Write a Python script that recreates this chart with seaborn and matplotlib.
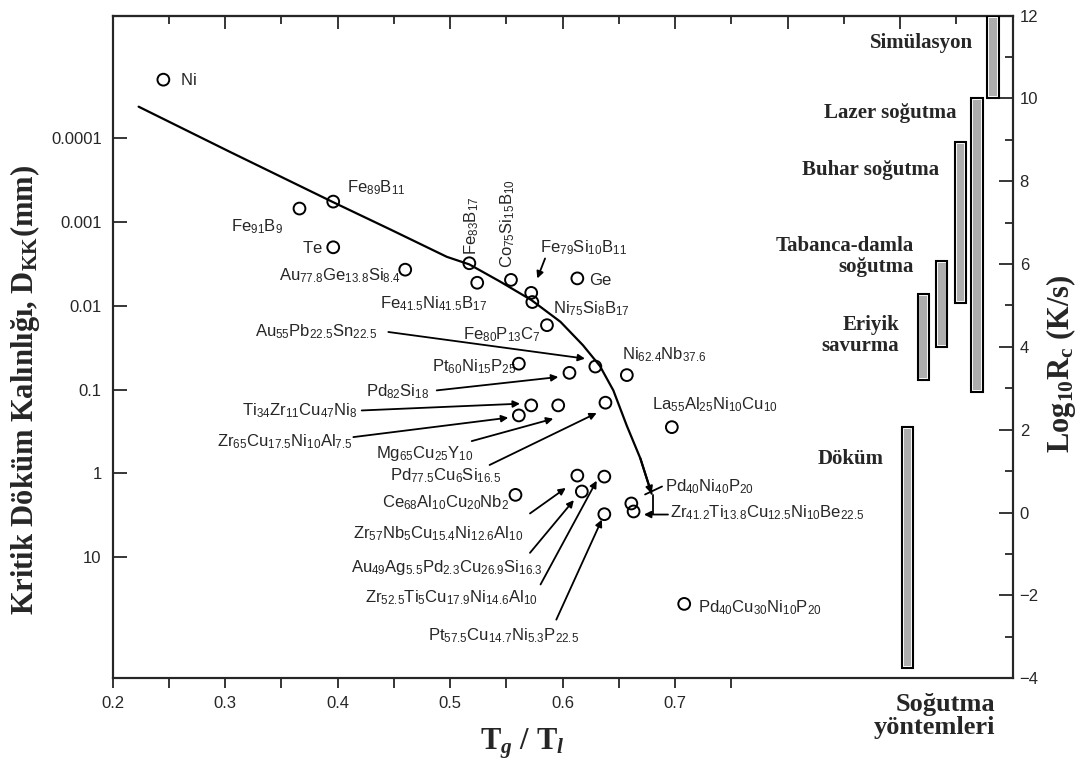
import numpy as np
import matplotlib
matplotlib.use("Agg")
import matplotlib.pyplot as plt
from matplotlib.ticker import FixedLocator, NullLocator
import seaborn as sns

# ---------------------------------------------------------------------------
# Alloys: reduced glass transition temperature Tg/Tl and critical casting
# thickness D_KK (mm)
# ---------------------------------------------------------------------------
alloys = [
    "Ni", "Fe_{91}B_{9}", "Fe_{89}B_{11}", "Te", "Au_{77.8}Ge_{13.8}Si_{8.4}",
    "Fe_{83}B_{17}", "Fe_{41.5}Ni_{41.5}B_{17}", "Co_{75}Si_{15}B_{10}",
    "Fe_{79}Si_{10}B_{11}", "Ni_{75}Si_{8}B_{17}", "Ge", "Fe_{80}P_{13}C_{7}",
    "Pt_{60}Ni_{15}P_{25}", "Au_{55}Pb_{22.5}Sn_{22.5}", "Pd_{82}Si_{18}",
    "Ni_{62.4}Nb_{37.6}", "Ti_{34}Zr_{11}Cu_{47}Ni_{8}",
    "Zr_{65}Cu_{17.5}Ni_{10}Al_{7.5}", "Mg_{65}Cu_{25}Y_{10}",
    "Pd_{77.5}Cu_{6}Si_{16.5}", "La_{55}Al_{25}Ni_{10}Cu_{10}",
    "Ce_{68}Al_{10}Cu_{20}Nb_{2}", "Zr_{57}Nb_{5}Cu_{15.4}Ni_{12.6}Al_{10}",
    "Au_{49}Ag_{5.5}Pd_{2.3}Cu_{26.9}Si_{16.3}",
    "Zr_{52.5}Ti_{5}Cu_{17.9}Ni_{14.6}Al_{10}",
    "Pt_{57.5}Cu_{14.7}Ni_{5.3}P_{22.5}", "Pd_{40}Ni_{40}P_{20}",
    "Zr_{41.2}Ti_{13.8}Cu_{12.5}Ni_{10}Be_{22.5}", "Pd_{40}Cu_{30}Ni_{10}P_{20}",
]
tg_tl = [0.245, 0.366, 0.396, 0.396, 0.460, 0.517, 0.524, 0.554, 0.572, 0.573,
         0.613, 0.586, 0.561, 0.629, 0.606, 0.657, 0.572, 0.561, 0.596, 0.638,
         0.697, 0.558, 0.613, 0.617, 0.637, 0.637, 0.661, 0.663, 0.708]
d_mm = [2.0e-5, 6.9e-4, 5.7e-4, 2.0e-3, 3.7e-3, 3.1e-3, 5.3e-3, 4.9e-3, 7.0e-3,
        9.0e-3, 4.7e-3, 0.017, 0.049, 0.053, 0.063, 0.067, 0.154, 0.203, 0.154,
        0.143, 0.28, 1.80, 1.06, 1.64, 1.09, 3.06, 2.28, 2.84, 36.0]

# Trend curve through the data
curve_tg = [0.223, 0.304, 0.396, 0.447, 0.497, 0.517, 0.544, 0.572, 0.598,
            0.618, 0.633, 0.645, 0.657, 0.669, 0.679]
curve_d = [4.2e-5, 1.45e-4, 5.8e-4, 1.23e-3, 2.6e-3, 3.2e-3, 5.1e-3, 8.5e-3,
           0.0155, 0.0295, 0.052, 0.102, 0.27, 0.66, 1.74]

# Cooling methods and their critical cooling-rate ranges, log10(Rc) in K/s
methods = ["Döküm", "Eriyik\nsavurma", "Tabanca-damla\nsoğutma",
           "Buhar soğutma", "Lazer soğutma", "Simülasyon"]
rc_low = [-3.76, 3.2, 4.0, 5.05, 2.9, 10.0]
rc_high = [2.07, 5.27, 6.08, 8.95, 10.0, 12.0]

d_ticks = [1e-4, 1e-3, 1e-2, 1e-1, 1, 10]
d_tick_labels = ["0.0001", "0.001", "0.01", "0.1", "1", "10"]
x_ticks = [0.2, 0.3, 0.4, 0.5, 0.6, 0.7]
x_tick_labels = ["0.2", "0.3", "0.4", "0.5", "0.6", "0.7"]
rc_ticks = [-4, -2, 0, 2, 4, 6, 8, 10, 12]

# ---------------------------------------------------------------------------
# Layout: label anchors (x, D, rotation) and arrows (from, to)
# ---------------------------------------------------------------------------
label_pos = {
    "Ni": (0.260, 1.95e-5, 0),
    "Fe_{91}B_{9}": (0.305, 1.06e-3, 0),
    "Fe_{89}B_{11}": (0.4085, 3.6e-4, 0),
    "Te": (0.3685, 1.97e-3, 0),
    "Au_{77.8}Ge_{13.8}Si_{8.4}": (0.348, 4.1e-3, 0),
    "Fe_{83}B_{17}": (0.519, 2.5e-3, 90),
    "Co_{75}Si_{15}B_{10}": (0.551, 3.5e-3, 90),
    "Fe_{79}Si_{10}B_{11}": (0.580, 1.88e-3, 0),
    "Ni_{75}Si_{8}B_{17}": (0.591, 0.0101, 0),
    "Ge": (0.6236, 4.71e-3, 0),
    "Fe_{41.5}Ni_{41.5}B_{17}": (0.4376, 8.8e-3, 0),
    "Fe_{80}P_{13}C_{7}": (0.5117, 0.0205, 0),
    "Pt_{60}Ni_{15}P_{25}": (0.4836, 0.0498, 0),
    "Au_{55}Pb_{22.5}Sn_{22.5}": (0.3265, 0.0192, 0),
    "Pd_{82}Si_{18}": (0.4249, 0.100, 0),
    "Ni_{62.4}Nb_{37.6}": (0.6524, 0.0355, 0),
    "Ti_{34}Zr_{11}Cu_{47}Ni_{8}": (0.3147, 0.169, 0),
    "Zr_{65}Cu_{17.5}Ni_{10}Al_{7.5}": (0.2924, 0.395, 0),
    "Mg_{65}Cu_{25}Y_{10}": (0.434, 0.546, 0),
    "Pd_{77.5}Cu_{6}Si_{16.5}": (0.4461, 1.0, 0),
    "La_{55}Al_{25}Ni_{10}Cu_{10}": (0.6791, 0.141, 0),
    "Ce_{68}Al_{10}Cu_{20}Nb_{2}": (0.4394, 2.08, 0),
    "Zr_{57}Nb_{5}Cu_{15.4}Ni_{12.6}Al_{10}": (0.4134, 4.86, 0),
    "Au_{49}Ag_{5.5}Pd_{2.3}Cu_{26.9}Si_{16.3}": (0.4118, 12.2, 0),
    "Zr_{52.5}Ti_{5}Cu_{17.9}Ni_{14.6}Al_{10}": (0.4243, 28.2, 0),
    "Pt_{57.5}Cu_{14.7}Ni_{5.3}P_{22.5}": (0.4804, 81.7, 0),
    "Pd_{40}Ni_{40}P_{20}": (0.6909, 1.33, 0),
    "Zr_{41.2}Ti_{13.8}Cu_{12.5}Ni_{10}Be_{22.5}": (0.6954, 2.77, 0),
    "Pd_{40}Cu_{30}Ni_{10}P_{20}": (0.720, 37.8, 0),
}
arrows = [
    ((0.5843, 2.72e-3), (0.5774, 4.71e-3)),
    ((0.445, 0.0205), (0.6198, 0.0426)),
    ((0.488, 0.102), (0.5961, 0.0706)),
    ((0.4213, 0.177), (0.5620, 0.147)),
    ((0.4139, 0.368), (0.5516, 0.216)),
    ((0.5191, 0.411), (0.5916, 0.222)),
    ((0.535, 0.792), (0.6302, 0.190)),
    ((0.5709, 3.0), (0.6027, 1.49)),
    ((0.5709, 8.85), (0.6099, 2.08)),
    ((0.5803, 21.1), (0.6302, 1.22)),
    ((0.5943, 55.5), (0.6348, 3.55)),
    ((0.6936, 3.09), (0.6722, 3.09)),
]
plain_lines = [
    ((0.6883, 1.43), (0.6732, 1.78)),
    ((0.6803, 1.83), (0.6803, 3.05)),
]
method_x = [0.9065, 0.9205, 0.9369, 0.9536, 0.9683, 0.9825]
method_label_pos = [(0.885, 1.29), (0.899, 4.27), (0.9123, 6.18),
                    (0.9345, 8.27), (0.950, 9.64), (0.965, 11.33)]

# ---------------------------------------------------------------------------
sns.set_style("white")
plt.rcParams["font.family"] = ["Liberation Sans", "DejaVu Sans"]
plt.rcParams["mathtext.fontset"] = "custom"
plt.rcParams["mathtext.rm"] = "Liberation Serif:bold"
plt.rcParams["mathtext.it"] = "Liberation Serif:bold:italic"
plt.rcParams["mathtext.bf"] = "Liberation Serif:bold"
plt.rcParams["mathtext.sf"] = "Liberation Sans"

SERIF = dict(fontfamily="Liberation Serif", fontweight="bold")

fig, ax = plt.subplots(figsize=(10.81, 7.6), dpi=100)
fig.subplots_adjust(left=0.1043, right=0.9368, top=0.9796, bottom=0.1075)

ax.set_yscale("log")
ax.set_xlim(0.2, 1.0)
ax.set_ylim(278, 3.43e-6)

# Trend curve and data points
sns.lineplot(x=curve_tg, y=curve_d, ax=ax, color="black", lw=1.6,
             sort=False, estimator=None)
ax.annotate("", xy=(curve_tg[-1], curve_d[-1]), xytext=(curve_tg[-2], curve_d[-2]),
            arrowprops=dict(arrowstyle="-|>", color="black", lw=1.5,
                            mutation_scale=10, shrinkA=0, shrinkB=0))
sns.scatterplot(x=tg_tl, y=d_mm, ax=ax, marker="o", s=72, color="white",
                edgecolor="black", linewidth=1.4, zorder=5)
for coll in ax.collections:
    coll.set_facecolor("none")

for name in alloys:
    x, d, rot = label_pos[name]
    if rot:
        ax.text(x, d, r"$\mathsf{" + name + "}$", fontsize=12, rotation=90,
                ha="center", va="bottom")
    else:
        ax.text(x, d, r"$\mathsf{" + name + "}$", fontsize=12,
                ha="left", va="center_baseline")

for (p0, p1) in arrows:
    ax.annotate("", xy=p1, xytext=p0,
                arrowprops=dict(arrowstyle="-|>", color="black", lw=1.3,
                                mutation_scale=10, shrinkA=0, shrinkB=0))
for (p0, p1) in plain_lines:
    ax.plot([p0[0], p1[0]], [p0[1], p1[1]], color="black", lw=1.3)

# Axes styling
for sp in ax.spines.values():
    sp.set_linewidth(1.5)
    sp.set_color("black")

ax.set_xticks(x_ticks)
ax.set_xticklabels(x_tick_labels)
ax.xaxis.set_minor_locator(FixedLocator([0.25, 0.35, 0.45, 0.55, 0.65, 0.75]))
ax.tick_params(axis="x", which="both", direction="out", length=7, width=1.3,
               labelsize=12, pad=6, bottom=True, top=False)
ax.set_yticks(d_ticks)
ax.set_yticklabels(d_tick_labels)
ax.yaxis.set_minor_locator(NullLocator())
ax.tick_params(axis="y", which="major", direction="in", length=10, width=1.3,
               labelsize=12, pad=8, left=True, right=False)

top = ax.secondary_xaxis("top")
top.set_xticks(np.arange(0.2, 1.001, 0.1))
top.xaxis.set_minor_locator(FixedLocator(np.arange(0.25, 1.0, 0.1)))
top.tick_params(axis="x", which="major", direction="in", length=9, width=1.3,
                labeltop=False)
top.tick_params(axis="x", which="minor", direction="in", length=6, width=1.3)
top.spines["top"].set_linewidth(1.5)

ax.set_xlabel(r"$\mathrm{T}_{g}\ /\ \mathrm{T}_{l}$", fontsize=22)
ax.xaxis.set_label_coords(0.455, -0.072)
ax.set_ylabel(r"Kritik Döküm Kalınlığı, $\mathrm{D_{KK}}$(mm)", fontsize=22,
              **SERIF)
ax.yaxis.set_label_coords(-0.0786, 0.435)

# Cooling-rate axis with method ranges
ax2 = ax.twinx()
ax2.set_ylim(-4, 12)
for sp in ax2.spines.values():
    sp.set_linewidth(1.5)
ax2.set_yticks(rc_ticks)
ax2.yaxis.set_minor_locator(FixedLocator(np.arange(-3, 12, 2)))
ax2.tick_params(axis="y", which="major", direction="in", length=10, width=1.3,
                labelsize=12, pad=5)
ax2.tick_params(axis="y", which="minor", direction="in", length=6, width=1.3)
ax2.set_ylabel(r"$\mathrm{Log_{10}R_c}$ (K/s)", fontsize=22, **SERIF)
ax2.yaxis.set_label_coords(1.0348, 0.474)

bar_w = 0.0100
ax2.bar(method_x, np.subtract(rc_high, rc_low), bottom=rc_low, width=bar_w,
        color="white", edgecolor="black", linewidth=1.5, zorder=3)
ax2.bar(method_x, np.subtract(rc_high, rc_low) - 0.1,
        bottom=np.add(rc_low, 0.05), width=bar_w * 0.68,
        color="#adadad", edgecolor="none", zorder=4)

for (x, rc), name in zip(method_label_pos, methods):
    ax2.text(x, rc, name, fontsize=15, ha="right", va="center",
             multialignment="right", linespacing=1.1, **SERIF)

ax2.text(0.9843, -4.91, "Soğutma\nyöntemleri", fontsize=19, ha="right",
         va="center", multialignment="right", linespacing=1.05,
         clip_on=False, **SERIF)

fig.savefig("out.png", dpi=100)
